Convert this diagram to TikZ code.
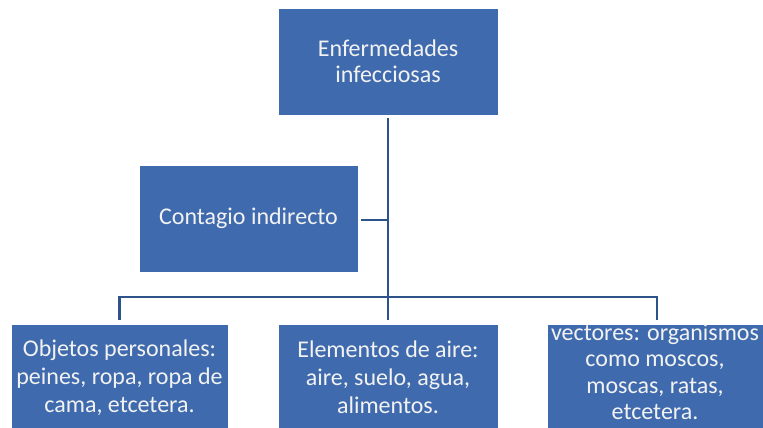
\documentclass[tikz,border=0pt]{standalone}
\usepackage{fontspec}
\setmainfont{Carlito}
\definecolor{boxblue}{HTML}{3F6BAE}
\definecolor{lineblue}{HTML}{2E528A}
\definecolor{txt}{HTML}{F2F2F2}
\begin{document}
\begin{tikzpicture}[x=1pt,y=-1pt,
  blbox/.style={draw=white, line width=0.8pt, fill=boxblue, text=txt, align=center, inner sep=0pt},
  lbl/.style={text=txt, align=center, inner sep=0pt},
  conn/.style={draw=lineblue, line width=2.8pt}]
\clip (0,0) rectangle (763,428);
\fill[white] (0,0) rectangle (763,428);
% boxes
\node[blbox, minimum width=220pt, minimum height=107pt, font=\fontsize{24}{26}\selectfont] (top) at (388,61.5) {Enfermedades\\infecciosas};
\node[blbox, minimum width=219pt, minimum height=107pt, font=\fontsize{24}{26}\selectfont] (ci) at (248.5,218.5) {Contagio indirecto};
\node[blbox, minimum width=217pt, minimum height=107pt, font=\fontsize{24}{28}\selectfont] (b1) at (119.5,377.5) {Objetos personales:\\peines, ropa, ropa de\\cama, etcetera.};
\node[blbox, minimum width=220pt, minimum height=107pt, font=\fontsize{24}{28}\selectfont] (b2) at (388,377.5) {Elementos de aire:\\aire, suelo, agua,\\alimentos.};
\node[blbox, minimum width=220pt, minimum height=107pt] (b3) at (657,377.5) {};
\node[lbl, font=\fontsize{24}{26.5}\selectfont] (b3t) at (655,372) {vectores: organismos\\como moscos,\\moscas, ratas,\\etcetera.};
% connector points
\coordinate (bar) at (388,297);
\coordinate (ciend) at (388,220);
% connectors
\draw[conn] ([yshift=-3pt]top.south) -- ([yshift=4pt]b2.north);
\draw[conn] ([xshift=3pt]ci.east |- ciend) -- (ciend);
\draw[conn] ([yshift=4pt]b1.north) |- (bar) -| ([yshift=4pt]b3.north);
\end{tikzpicture}
\end{document}
